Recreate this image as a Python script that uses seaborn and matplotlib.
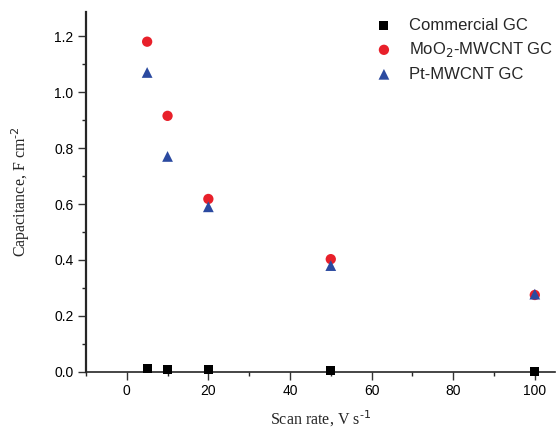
import numpy as np
import pandas as pd
import matplotlib
matplotlib.use('Agg')
import matplotlib.pyplot as plt
import seaborn as sns
from matplotlib.ticker import MultipleLocator

# data
scan_rate = [5, 10, 20, 50, 100]
commercial = [0.012, 0.010, 0.008, 0.005, 0.003]
moo2 = [1.18, 0.915, 0.618, 0.403, 0.275]
pt = [1.07, 0.77, 0.59, 0.38, 0.278]
names = ['Commercial GC', 'MoO$_2$-MWCNT GC', 'Pt-MWCNT GC']

df = pd.DataFrame({
    'rate': scan_rate * 3,
    'cap': commercial + moo2 + pt,
    'sample': [names[0]] * 5 + [names[1]] * 5 + [names[2]] * 5,
})

sns.set_style('ticks')
plt.rcParams['font.family'] = ['Liberation Sans', 'DejaVu Sans']

fig = plt.figure(figsize=(5.58, 4.29), dpi=100)
ax = fig.add_axes([0.154, 0.133, 0.841, 0.839])

palette = {names[0]: 'black', names[1]: '#e8202a', names[2]: '#2b4aa0'}
markers = {names[0]: 's', names[1]: 'o', names[2]: '^'}
sizes = {names[0]: 42, names[1]: 55, names[2]: 60}

for n in names:
    sub = df[df['sample'] == n]
    sns.scatterplot(data=sub, x='rate', y='cap', color=palette[n], marker=markers[n],
                    s=sizes[n], edgecolor='none', label=n, ax=ax, zorder=3, clip_on=False)

ax.set_xlim(-10, 105)
ax.set_ylim(0, 1.286)
ax.xaxis.set_major_locator(MultipleLocator(20))
ax.xaxis.set_minor_locator(MultipleLocator(10))
ax.yaxis.set_major_locator(MultipleLocator(0.2))
ax.yaxis.set_minor_locator(MultipleLocator(0.1))
ax.yaxis.set_major_formatter(matplotlib.ticker.FormatStrFormatter('%.1f'))

for s in ['top', 'right']:
    ax.spines[s].set_visible(False)
ax.spines['left'].set_linewidth(1.6)
ax.spines['bottom'].set_linewidth(1.2)
ax.tick_params(axis='both', which='major', length=5.5, width=1, labelsize=10, colors='#333333')
ax.tick_params(axis='both', which='minor', length=3, width=1)
ax.tick_params(axis='x', labelcolor='black')
ax.tick_params(axis='y', labelcolor='black')

ax.set_xlabel('Scan rate, V s$^{\\text{-1}}$', family='Liberation Serif', fontsize=11.5, labelpad=7)
ax.set_ylabel('Capacitance, F cm$^{\\text{-2}}$', family='Liberation Serif', fontsize=11.5, labelpad=16)

ax.legend(loc='upper right', bbox_to_anchor=(1.017, 1.012), frameon=False, fontsize=12,
          handletextpad=0.5, labelspacing=0.45, borderaxespad=0.2, borderpad=0.4)

fig.savefig('out.png', dpi=100)
